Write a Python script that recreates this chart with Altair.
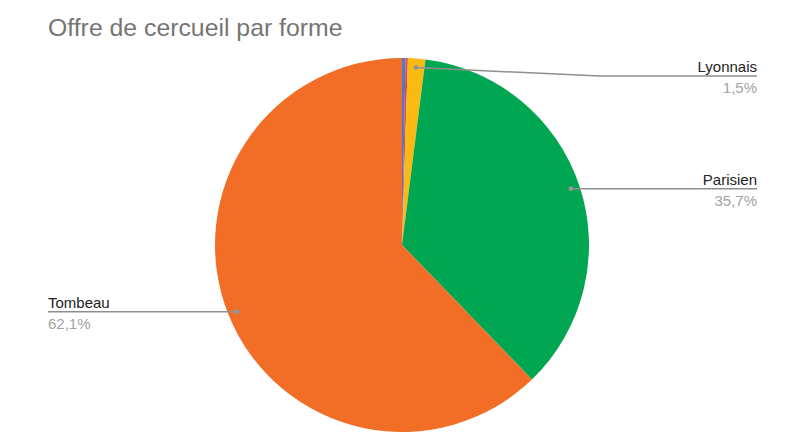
import math
import altair as alt
import pandas as pd

# ---- data ----
categories = ["Autre A", "Autre B", "Lyonnais", "Parisien", "Tombeau"]
values = [0.3, 0.2, 1.5, 35.7, 62.1]
colors = ["#4a7bd4", "#e8453c", "#fbb913", "#00a651", "#f26e27"]
labelled = ["Lyonnais", "Parisien", "Tombeau"]

# ---- layout constants (chart pixel space) ----
W, H = 784, 430
CX, CY, R = 394, 237, 187
DOT_R = 178
RIGHT_X, LEFT_X = 749, 40
FONT = "Liberation Sans"

pie_df = pd.DataFrame({"cat": categories, "val": values, "idx": range(len(values))})

pie = alt.Chart(pie_df).mark_arc(outerRadius=R, stroke=None).encode(
    theta=alt.Theta("val:Q", stack=True),
    order=alt.Order("idx:Q"),
    color=alt.Color("cat:N", scale=alt.Scale(domain=categories, range=colors), legend=None),
    x=alt.value(CX),
    y=alt.value(CY),
)

# label anchor positions from data (mid angle of each slice)
total = sum(values)
cum = 0.0
dots, segs, names, pcts = [], [], [], []
for c, v in zip(categories, values):
    mid = (cum + v / 2) / total * 2 * math.pi
    cum += v
    if c not in labelled:
        continue
    dx = CX + DOT_R * math.sin(mid)
    dy = CY - DOT_R * math.cos(mid)
    dots.append({"x": dx, "y": dy})
    pct = ("%.1f" % v).replace(".", ",") + "%"
    if dx > CX:
        if dy < 120:
            ly = dy + 8.5
            segs.append({"x": dx, "y": dy, "x2": 592, "y2": ly})
            segs.append({"x": 592, "y": ly, "x2": RIGHT_X, "y2": ly})
        else:
            ly = dy
            segs.append({"x": dx, "y": ly, "x2": RIGHT_X, "y2": ly})
        names.append({"x": RIGHT_X, "y": ly - 4, "t": c, "a": "right"})
        pcts.append({"x": RIGHT_X, "y": ly + 17, "t": pct, "a": "right"})
    else:
        ly = dy
        segs.append({"x": LEFT_X, "y": ly, "x2": dx, "y2": ly})
        names.append({"x": LEFT_X, "y": ly - 4, "t": c, "a": "left"})
        pcts.append({"x": LEFT_X, "y": ly + 17, "t": pct, "a": "left"})

seg_df = pd.DataFrame(segs)
dot_df = pd.DataFrame(dots)
names_r = pd.DataFrame([n for n in names if n["a"] == "right"])
names_l = pd.DataFrame([n for n in names if n["a"] == "left"])
pcts_r = pd.DataFrame([n for n in pcts if n["a"] == "right"])
pcts_l = pd.DataFrame([n for n in pcts if n["a"] == "left"])

lines = alt.Chart(seg_df).mark_rule(color="#8f8f8f", strokeWidth=1.5).encode(
    x=alt.X("x:Q", scale=None), y=alt.Y("y:Q", scale=None),
    x2="x2:Q", y2="y2:Q",
)
dot_layer = alt.Chart(dot_df).mark_circle(color="#959595", opacity=1, size=24).encode(
    x=alt.X("x:Q", scale=None), y=alt.Y("y:Q", scale=None)
)

def txt(df, align, color):
    return alt.Chart(df).mark_text(
        align=align, baseline="alphabetic", font=FONT, fontSize=15, color=color
    ).encode(x=alt.X("x:Q", scale=None), y=alt.Y("y:Q", scale=None), text="t:N")

title_df = pd.DataFrame({"t": ["Offre de cercueil par forme"]})
title = alt.Chart(title_df).mark_text(
    align="left", baseline="alphabetic", font=FONT, fontSize=24.8, color="#757575"
).encode(x=alt.value(40), y=alt.value(28), text="t:N")

chart = alt.layer(
    pie, lines, dot_layer,
    txt(names_r, "right", "#222222"), txt(pcts_r, "right", "#a3a3a3"),
    txt(names_l, "left", "#222222"), txt(pcts_l, "left", "#a3a3a3"),
    title,
).properties(
    width=W, height=H, padding=0, autosize=alt.AutoSizeParams(type="none")
).configure_view(stroke=None)

chart.save("out.html", embed_options={"renderer": "svg", "actions": False})
